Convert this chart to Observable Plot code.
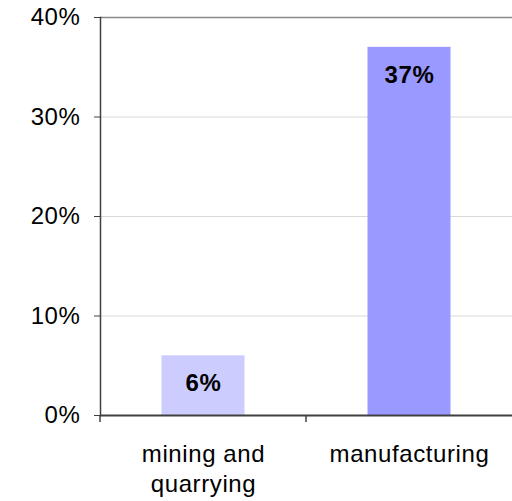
<!DOCTYPE html>
<html><head><meta charset="utf-8">
<script src="https://cdn.jsdelivr.net/npm/d3@7"></script>
<script src="https://cdn.jsdelivr.net/npm/@observablehq/plot@0.6"></script>
<style>
body{margin:0;background:#fff}
svg{font-family:"Liberation Sans",Arial,sans-serif}
svg text{letter-spacing:0.6px}
</style>
</head><body><div id="chart"></div>
<script>
const categories = ["mining and quarrying", "manufacturing"];
const categoryLabels = ["mining and\nquarrying", "manufacturing"];
const values = [0.06, 0.37];
const valueLabels = ["6%", "37%"];
const barColors = ["#ccccff", "#9999ff"];
const yTicks = [0, 0.1, 0.2, 0.3, 0.4];
const gridTicks = [0.1, 0.2, 0.3];
const topLine = [0.4];

const data = categories.map((c, i) => ({category: c, value: values[i], label: valueLabels[i], color: barColors[i]}));

const boundaryTicks = (index, scales) => {
  const g = d3.create("svg:g");
  const y0 = scales.y(0);
  for (const c of categories) {
    const px = scales.x(c);
    g.append("line").attr("x1", px).attr("x2", px).attr("y1", y0).attr("y2", y0 + 7)
      .attr("stroke", "#404040").attr("stroke-width", 1.5);
  }
  return g.node();
};

const chart = Plot.plot({
  width: 512, height: 501,
  marginTop: 17, marginBottom: 86, marginLeft: 100, marginRight: 0,
  style: {fontFamily: '"Liberation Sans", Arial, sans-serif', fontSize: "24px", color: "#000", background: "#fff"},
  x: {domain: categories, padding: 0, label: null},
  y: {domain: [0, 0.4], label: null},
  color: {type: "identity"},
  marks: [
    Plot.gridY(gridTicks, {stroke: "#d9d9d9", strokeOpacity: 1, strokeWidth: 1}),
    Plot.ruleY(topLine, {stroke: "#888888", strokeWidth: 1.5}),
    Plot.barY(data, {x: "category", y: "value", fill: "color", insetLeft: 61.5, insetRight: 61.5}),
    Plot.text(data, {x: "category", y: "value", text: "label", dy: 28, fontWeight: "bold", fontSize: 24, lineAnchor: "middle", fill: "#000"}),
    Plot.ruleY([0], {stroke: "#404040", strokeWidth: 2}),
    Plot.frame({anchor: "left", stroke: "#404040", strokeWidth: 1.5}),
    Plot.axisY(yTicks, {tickFormat: d => `${Math.round(d * 100)}%`, tickSize: 6, tickPadding: 14, fontSize: 24, stroke: "#404040", fill: "#000", label: null}),
    Plot.axisX({tickSize: 0, tickPadding: 25, tickFormat: d => categoryLabels[categories.indexOf(d)], lineHeight: 1.25, fontSize: 24, fill: "#000", label: null}),
    boundaryTicks
  ]
});
document.getElementById("chart").append(chart);
</script>
</body></html>
